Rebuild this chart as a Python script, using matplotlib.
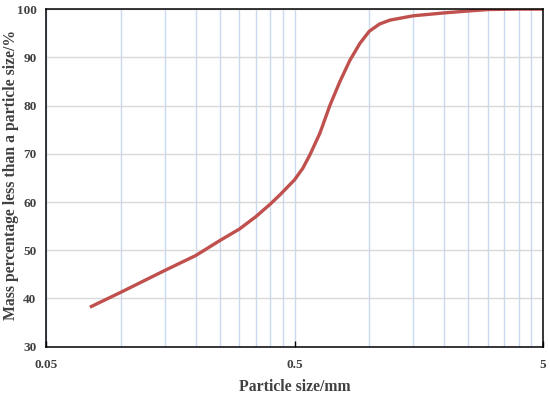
import matplotlib
matplotlib.use("Agg")
import matplotlib.pyplot as plt
from matplotlib.ticker import FixedLocator, NullFormatter

plt.rcParams['font.family'] = ['Liberation Serif', 'DejaVu Serif']

# particle size (mm) vs cumulative passing (%)
size_mm = [0.075, 0.1, 0.15, 0.2, 0.25, 0.3, 0.35, 0.4, 0.437, 0.5, 0.54, 0.577,
           0.633, 0.695, 0.762, 0.836, 0.917, 1.0, 1.1, 1.21, 1.5, 2.0, 2.5,
           3.0, 4.0, 5.0]
passing = [38.2, 41.3, 45.8, 48.9, 52.0, 54.4, 57.0, 59.6, 61.5, 64.6, 67.0, 69.8,
           74.3, 80.1, 85.0, 89.4, 92.9, 95.4, 96.9, 97.7, 98.6, 99.2, 99.6,
           99.9, 100.0, 100.0]

x_ticks = [0.05, 0.5, 5]
x_ticklabels = ['0.05', '0.5', '5']
y_ticks = [30, 40, 50, 60, 70, 80, 90, 100]

fig, ax = plt.subplots(figsize=(5.5, 3.94), dpi=100)
fig.subplots_adjust(left=0.084, right=0.987, top=0.977, bottom=0.12)

ax.set_xscale('log')
ax.set_xlim(0.05, 5)
ax.set_ylim(30, 100)

minor = [0.05 * k for k in range(2, 10)] + [0.5 * k for k in range(2, 10)]
ax.xaxis.set_major_locator(FixedLocator(x_ticks))
ax.xaxis.set_minor_locator(FixedLocator(minor))
ax.xaxis.set_minor_formatter(NullFormatter())
ax.set_xticklabels(x_ticklabels)
ax.set_yticks(y_ticks)

ax.grid(True, axis='x', which='both', color='#c9d9ee', lw=1)
ax.grid(True, axis='y', which='major', color='#d9d9d9', lw=1)
ax.set_axisbelow(True)

ax.plot(size_mm, passing, color='#c0504d', lw=2.4, solid_capstyle='butt',
        solid_joinstyle='round')

for s in ax.spines.values():
    s.set_color('black')
    s.set_linewidth(1.1)

ax.tick_params(axis='both', which='major', direction='in', length=4, width=1,
               labelsize=9.5, labelcolor='#404040')
ax.tick_params(axis='x', which='major', pad=9)
ax.tick_params(axis='x', which='minor', length=0)
ax.tick_params(axis='y', length=0, pad=7)
for lab in ax.get_xticklabels() + ax.get_yticklabels():
    lab.set_fontweight('bold')

ax.set_xlabel('Particle size/mm', fontsize=11.3, fontweight='bold', color='#404040')
ax.set_ylabel('Mass percentage less than a particle size/%', fontsize=11.3,
              fontweight='bold', color='#404040')
ax.xaxis.set_label_coords(0.5, -0.095)
ax.yaxis.set_label_coords(-0.054, 0.51)

fig.savefig('out.png', dpi=100)
